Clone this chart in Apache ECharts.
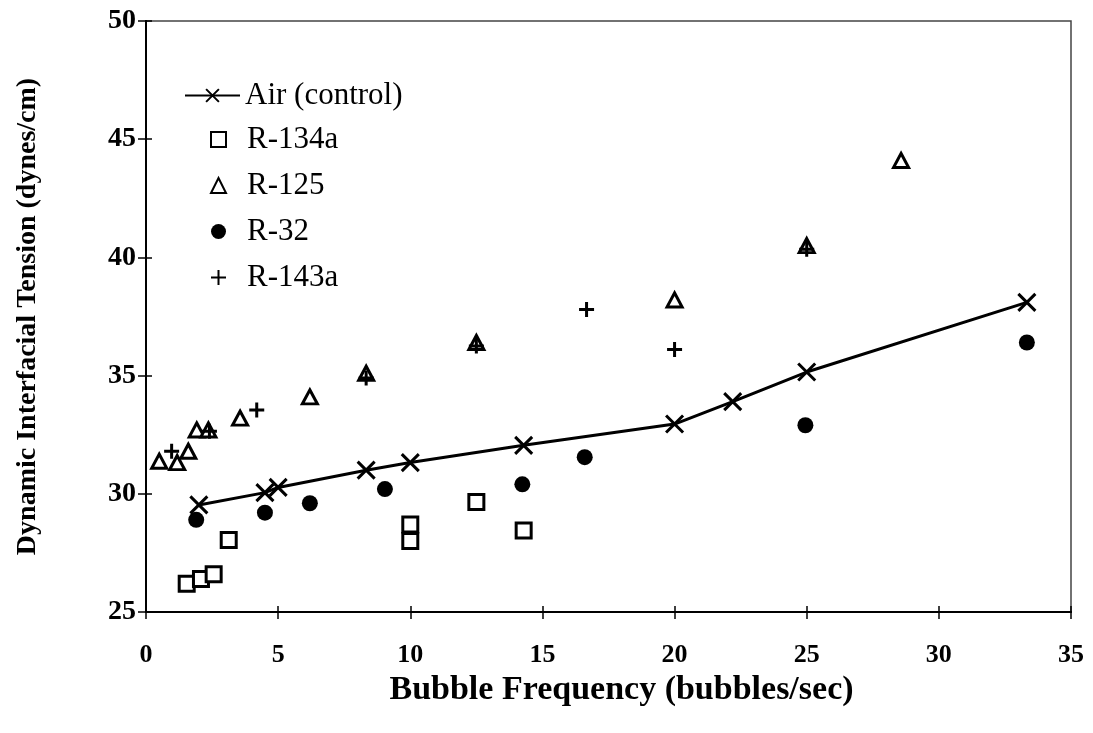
<!DOCTYPE html>
<html><head><meta charset="utf-8">
<script src="https://cdn.jsdelivr.net/npm/echarts@6/dist/echarts.min.js"></script>
<style>html,body{margin:0;padding:0;background:#fff}#c{width:1093px;height:733px}</style>
</head><body><div id="c"></div>
<script>
const airX = [2.0, 4.5, 5.0, 8.33, 10.0, 14.29, 20.0, 22.2, 25.0, 33.33];
const airY = [29.53, 30.05, 30.27, 31.0, 31.32, 32.05, 32.95, 33.9, 35.15, 38.1];
const r134aX = [1.54, 2.08, 2.56, 3.13, 10, 10, 12.5, 14.29];
const r134aY = [26.2, 26.4, 26.6, 28.05, 28.7, 28.0, 29.65, 28.45];
const r125X = [0.5, 1.18, 1.6, 1.92, 2.36, 3.56, 6.2, 8.33, 12.5, 20, 25, 28.57];
const r125Y = [31.38, 31.32, 31.8, 32.7, 32.7, 33.2, 34.1, 35.1, 36.4, 38.2, 40.5, 44.1];
const r32X = [1.9, 4.5, 6.2, 9.04, 14.24, 16.6, 24.95, 33.33];
const r32Y = [28.9, 29.2, 29.6, 30.2, 30.4, 31.55, 32.9, 36.4];
const r143aX = [0.97, 2.4, 4.19, 8.33, 12.5, 16.67, 20, 25];
const r143aY = [31.8, 32.65, 33.55, 34.9, 36.25, 37.8, 36.1, 40.35];
const seriesNames = ['Air (control)', 'R-134a', 'R-125', 'R-32', 'R-143a'];
const xTicks = [0, 5, 10, 15, 20, 25, 30, 35];
const yTicks = [25, 30, 35, 40, 45, 50];

const pair = (xs, ys) => xs.map((x, i) => [x, ys[i]]);
const FONT = 'Liberation Serif';
const X_PATH = 'path://M0,0L10,10M10,0L0,10';
const PLUS_PATH = 'path://M5,0L5,10M0,5L10,5';

const chart = echarts.init(document.getElementById('c'), null, {renderer: 'canvas'});
const axisCommon = {
  min: 0, max: 35, interval: 5, type: 'value', splitLine: {show: false},
  axisLine: {show: true, lineStyle: {color: '#000', width: 2}}
};
const legendText = {fontFamily: FONT, fontSize: 31, color: '#000', lineHeight: 28};
chart.setOption({
  animation: false,
  backgroundColor: '#fff',
  grid: {left: 146, top: 21, right: 22, bottom: 121, show: true, borderColor: '#444', borderWidth: 1.5, backgroundColor: 'transparent'},
  legend: [
    {
      left: 179, top: 75, orient: 'vertical', itemWidth: 55, itemHeight: 16, itemGap: 15,
      data: [seriesNames[0]],
      textStyle: legendText
    },
    {
      left: 205, top: 119, orient: 'vertical', itemWidth: 15, itemHeight: 15, itemGap: 15,
      data: seriesNames.slice(1),
      textStyle: Object.assign({}, legendText, {padding: [0, 0, 0, 16]})
    }
  ],
  xAxis: [
    Object.assign({}, axisCommon, {
      position: 'bottom',
      name: 'Bubble Frequency (bubbles/sec)', nameLocation: 'middle', nameGap: 56,
      nameTextStyle: {fontFamily: FONT, fontSize: 34, fontWeight: 'bold', color: '#000', padding: [0, 0, 0, 26]},
      axisTick: {show: true, inside: false, length: 7, lineStyle: {color: '#000', width: 1.5}},
      axisLabel: {margin: 30, fontFamily: FONT, fontSize: 26, fontWeight: 'bold', color: '#000',
        formatter: v => xTicks.includes(v) ? String(v) : ''}
    }),
    Object.assign({}, axisCommon, {
      position: 'bottom',
      axisTick: {show: true, inside: true, length: 6, lineStyle: {color: '#000', width: 1.5}},
      axisLabel: {show: false}
    })
  ],
  yAxis: [
    {
      type: 'value', min: 25, max: 50, interval: 5, splitLine: {show: false},
      axisLine: {show: true, lineStyle: {color: '#000', width: 2}},
      name: 'Dynamic Interfacial Tension (dynes/cm)', nameLocation: 'middle', nameGap: 104,
      nameTextStyle: {fontFamily: FONT, fontSize: 28, fontWeight: 'bold', color: '#000'},
      axisTick: {show: true, inside: false, length: 8, lineStyle: {color: '#000', width: 1.5}},
      axisLabel: {margin: 10, fontFamily: FONT, fontSize: 28, fontWeight: 'bold', color: '#000',
        formatter: v => yTicks.includes(v) ? String(v) : ''}
    },
    {
      type: 'value', min: 25, max: 50, interval: 5, splitLine: {show: false}, position: 'left',
      axisLine: {show: true, lineStyle: {color: '#000', width: 2}},
      axisTick: {show: true, inside: true, length: 6, lineStyle: {color: '#000', width: 1.5}},
      axisLabel: {show: false}
    }
  ],
  series: [
    {
      name: seriesNames[0], type: 'line', data: pair(airX, airY),
      symbol: X_PATH, symbolSize: 17,
      lineStyle: {color: '#000', width: 3},
      itemStyle: {color: 'rgba(0,0,0,0)', borderColor: '#000', borderWidth: 3}
    },
    {
      name: seriesNames[1], type: 'scatter', data: pair(r134aX, r134aY),
      symbol: 'rect', symbolSize: 15,
      itemStyle: {color: '#fff', borderColor: '#000', borderWidth: 3, opacity: 1}
    },
    {
      name: seriesNames[2], type: 'scatter', data: pair(r125X, r125Y),
      symbol: 'triangle', symbolSize: [15, 14],
      itemStyle: {color: '#fff', borderColor: '#000', borderWidth: 3, opacity: 1}
    },
    {
      name: seriesNames[3], type: 'scatter', data: pair(r32X, r32Y),
      symbol: 'circle', symbolSize: 16,
      itemStyle: {color: '#000', opacity: 1}
    },
    {
      name: seriesNames[4], type: 'scatter', data: pair(r143aX, r143aY),
      symbol: PLUS_PATH, symbolSize: 15,
      itemStyle: {color: 'rgba(0,0,0,0)', borderColor: '#000', borderWidth: 3, opacity: 1}
    }
  ]
});
</script></body></html>
